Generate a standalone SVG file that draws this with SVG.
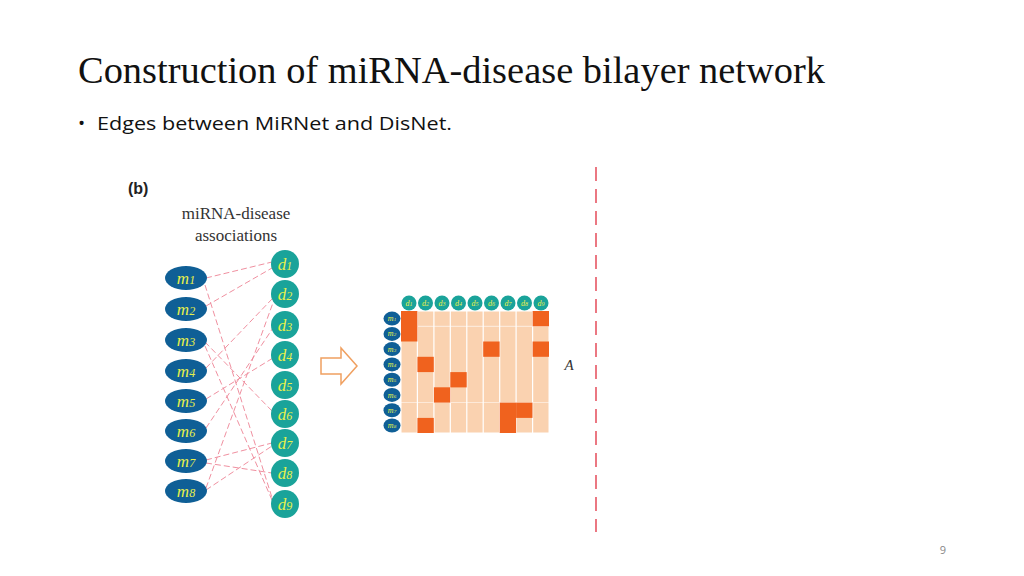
<svg xmlns="http://www.w3.org/2000/svg" width="1024" height="576" viewBox="0 0 1024 576">
<style>
.m{fill:#0f5f96}.d{fill:#1aa39a}.lab{font-family:"Liberation Serif",serif;font-style:italic;fill:#e8f04a}
.e{stroke:#f090a0;stroke-width:1;stroke-dasharray:6,3;fill:none}
.c{fill:#fad2b0;stroke:#fff;stroke-width:1}.f{fill:#f0621e}
</style>
<rect width="1024" height="576" fill="#fff"/>
<text x="78" y="83" font-family="Liberation Serif,serif" font-size="37" fill="#111" textLength="747" lengthAdjust="spacingAndGlyphs">Construction of miRNA-disease bilayer network</text>
<text x="78" y="130" font-family="Open Sans,sans-serif" font-size="19" fill="#111">•</text>
<text x="97" y="130" font-family="Open Sans,sans-serif" font-size="19" fill="#111" textLength="355" lengthAdjust="spacingAndGlyphs">Edges between MiRNet and DisNet.</text>
<text x="128" y="194" font-family="Liberation Sans,sans-serif" font-size="16" font-weight="bold" fill="#222">(b)</text>
<text x="236" y="219" text-anchor="middle" font-family="Liberation Serif,serif" font-size="17" fill="#333">miRNA-disease</text>
<text x="236" y="241" text-anchor="middle" font-family="Liberation Serif,serif" font-size="17" fill="#333">associations</text>
<g id="connectors">
<line class="e" x1="206" y1="278" x2="272" y2="262"/>
<line class="e" x1="205" y1="285" x2="274" y2="504"/>
<line class="e" x1="206" y1="306" x2="272" y2="268"/>
<line class="e" x1="205" y1="342" x2="273" y2="412"/>
<line class="e" x1="205" y1="346" x2="272" y2="500"/>
<line class="e" x1="206" y1="368" x2="273" y2="298"/>
<line class="e" x1="206" y1="399" x2="273" y2="358"/>
<line class="e" x1="206" y1="428" x2="273" y2="328"/>
<line class="e" x1="206" y1="460" x2="272" y2="443"/>
<line class="e" x1="206" y1="463" x2="272" y2="473"/>
<line class="e" x1="206" y1="488" x2="274" y2="300"/>
<line class="e" x1="206" y1="490" x2="272" y2="446"/>
</g>
<g id="mnodes">
<g id="m1"><ellipse class="m" cx="186" cy="278" rx="21" ry="12"/><text class="lab" x="186" y="284" text-anchor="middle" font-size="17">m<tspan font-size="12">1</tspan></text></g>
<g id="m2"><ellipse class="m" cx="186" cy="309" rx="21" ry="12"/><text class="lab" x="186" y="315" text-anchor="middle" font-size="17">m<tspan font-size="12">2</tspan></text></g>
<g id="m3"><ellipse class="m" cx="186" cy="340" rx="21" ry="12"/><text class="lab" x="186" y="346" text-anchor="middle" font-size="17">m<tspan font-size="12">3</tspan></text></g>
<g id="m4"><ellipse class="m" cx="186" cy="371" rx="21" ry="12"/><text class="lab" x="186" y="377" text-anchor="middle" font-size="17">m<tspan font-size="12">4</tspan></text></g>
<g id="m5"><ellipse class="m" cx="186" cy="401" rx="21" ry="12"/><text class="lab" x="186" y="407" text-anchor="middle" font-size="17">m<tspan font-size="12">5</tspan></text></g>
<g id="m6"><ellipse class="m" cx="186" cy="431" rx="21" ry="12"/><text class="lab" x="186" y="437" text-anchor="middle" font-size="17">m<tspan font-size="12">6</tspan></text></g>
<g id="m7"><ellipse class="m" cx="186" cy="461" rx="21" ry="12"/><text class="lab" x="186" y="467" text-anchor="middle" font-size="17">m<tspan font-size="12">7</tspan></text></g>
<g id="m8"><ellipse class="m" cx="186" cy="491" rx="21" ry="12"/><text class="lab" x="186" y="497" text-anchor="middle" font-size="17">m<tspan font-size="12">8</tspan></text></g>
</g>
<g id="dnodes">
<g id="d1"><ellipse class="d" cx="285" cy="264" rx="14" ry="14"/><text class="lab" x="285" y="270" text-anchor="middle" font-size="17">d<tspan font-size="12">1</tspan></text></g>
<g id="d2"><ellipse class="d" cx="285" cy="294" rx="14" ry="14"/><text class="lab" x="285" y="300" text-anchor="middle" font-size="17">d<tspan font-size="12">2</tspan></text></g>
<g id="d3"><ellipse class="d" cx="285" cy="325" rx="14" ry="14"/><text class="lab" x="285" y="331" text-anchor="middle" font-size="17">d<tspan font-size="12">3</tspan></text></g>
<g id="d4"><ellipse class="d" cx="285" cy="355" rx="14" ry="14"/><text class="lab" x="285" y="361" text-anchor="middle" font-size="17">d<tspan font-size="12">4</tspan></text></g>
<g id="d5"><ellipse class="d" cx="285" cy="385" rx="14" ry="14"/><text class="lab" x="285" y="391" text-anchor="middle" font-size="17">d<tspan font-size="12">5</tspan></text></g>
<g id="d6"><ellipse class="d" cx="285" cy="414" rx="14" ry="14"/><text class="lab" x="285" y="420" text-anchor="middle" font-size="17">d<tspan font-size="12">6</tspan></text></g>
<g id="d7"><ellipse class="d" cx="285" cy="443" rx="14" ry="14"/><text class="lab" x="285" y="449" text-anchor="middle" font-size="17">d<tspan font-size="12">7</tspan></text></g>
<g id="d8"><ellipse class="d" cx="285" cy="473" rx="14" ry="14"/><text class="lab" x="285" y="479" text-anchor="middle" font-size="17">d<tspan font-size="12">8</tspan></text></g>
<g id="d9"><ellipse class="d" cx="285" cy="504" rx="14" ry="14"/><text class="lab" x="285" y="510" text-anchor="middle" font-size="17">d<tspan font-size="12">9</tspan></text></g>
</g>
<g id="arrow"><path d="M321,358 H341 V348 L357,366 L341,384 V374 H321 Z" fill="#fff" stroke="#f0a060" stroke-width="1.5"/></g>
<g id="matrix">
<rect class="c" x="401" y="311" width="148" height="122"/>
<g stroke="#fff" stroke-width="1.2">
<line x1="417.4" y1="311" x2="417.4" y2="433"/><line x1="433.9" y1="311" x2="433.9" y2="433"/><line x1="450.3" y1="311" x2="450.3" y2="433"/><line x1="466.8" y1="311" x2="466.8" y2="433"/><line x1="483.2" y1="311" x2="483.2" y2="433"/><line x1="499.7" y1="311" x2="499.7" y2="433"/><line x1="516.1" y1="311" x2="516.1" y2="433"/><line x1="532.6" y1="311" x2="532.6" y2="433"/>
<line x1="401" y1="326.3" x2="549" y2="326.3" stroke-opacity="0.5"/><line x1="401" y1="402.5" x2="549" y2="402.5" stroke-opacity="0.5"/>
</g>
<g class="f">
<rect x="401" y="311" width="16.4" height="30.5"/><rect x="532.6" y="311" width="16.4" height="15.3"/>
<rect x="483.2" y="341.5" width="16.4" height="15.3"/><rect x="532.6" y="341.5" width="16.4" height="15.3"/>
<rect x="417.4" y="356.8" width="16.4" height="15.3"/>
<rect x="450.3" y="372.1" width="16.4" height="15.3"/>
<rect x="433.9" y="387.3" width="16.4" height="15.3"/>
<rect x="499.7" y="402.6" width="16.4" height="30.4"/><rect x="516.1" y="402.6" width="16.4" height="15.3"/>
<rect x="417.4" y="417.9" width="16.4" height="15.1"/>
</g>
<g id="colheads" font-size="8">
<circle class="d" cx="409" cy="303" r="7.5"/><text class="lab" x="409" y="306" text-anchor="middle">d<tspan font-size="6">1</tspan></text>
<circle class="d" cx="425.5" cy="303" r="7.5"/><text class="lab" x="425.5" y="306" text-anchor="middle">d<tspan font-size="6">2</tspan></text>
<circle class="d" cx="442" cy="303" r="7.5"/><text class="lab" x="442" y="306" text-anchor="middle">d<tspan font-size="6">3</tspan></text>
<circle class="d" cx="458.5" cy="303" r="7.5"/><text class="lab" x="458.5" y="306" text-anchor="middle">d<tspan font-size="6">4</tspan></text>
<circle class="d" cx="475" cy="303" r="7.5"/><text class="lab" x="475" y="306" text-anchor="middle">d<tspan font-size="6">5</tspan></text>
<circle class="d" cx="491.5" cy="303" r="7.5"/><text class="lab" x="491.5" y="306" text-anchor="middle">d<tspan font-size="6">6</tspan></text>
<circle class="d" cx="508" cy="303" r="7.5"/><text class="lab" x="508" y="306" text-anchor="middle">d<tspan font-size="6">7</tspan></text>
<circle class="d" cx="524.5" cy="303" r="7.5"/><text class="lab" x="524.5" y="306" text-anchor="middle">d<tspan font-size="6">8</tspan></text>
<circle class="d" cx="541" cy="303" r="7.5"/><text class="lab" x="541" y="306" text-anchor="middle">d<tspan font-size="6">9</tspan></text>
</g>
<g id="rowheads" font-size="8">
<ellipse class="m" cx="392" cy="318.6" rx="8.5" ry="7"/><text class="lab" x="392" y="321" text-anchor="middle">m<tspan font-size="5">1</tspan></text>
<ellipse class="m" cx="392" cy="333.9" rx="8.5" ry="7"/><text class="lab" x="392" y="336" text-anchor="middle">m<tspan font-size="5">2</tspan></text>
<ellipse class="m" cx="392" cy="349.1" rx="8.5" ry="7"/><text class="lab" x="392" y="351.5" text-anchor="middle">m<tspan font-size="5">3</tspan></text>
<ellipse class="m" cx="392" cy="364.4" rx="8.5" ry="7"/><text class="lab" x="392" y="367" text-anchor="middle">m<tspan font-size="5">4</tspan></text>
<ellipse class="m" cx="392" cy="379.7" rx="8.5" ry="7"/><text class="lab" x="392" y="382" text-anchor="middle">m<tspan font-size="5">5</tspan></text>
<ellipse class="m" cx="392" cy="394.9" rx="8.5" ry="7"/><text class="lab" x="392" y="397.5" text-anchor="middle">m<tspan font-size="5">6</tspan></text>
<ellipse class="m" cx="392" cy="410.2" rx="8.5" ry="7"/><text class="lab" x="392" y="412.5" text-anchor="middle">m<tspan font-size="5">7</tspan></text>
<ellipse class="m" cx="392" cy="425.5" rx="8.5" ry="7"/><text class="lab" x="392" y="428" text-anchor="middle">m<tspan font-size="5">8</tspan></text>
</g>
</g>
<text x="569" y="370" text-anchor="middle" font-family="Liberation Serif,serif" font-style="italic" font-size="15" fill="#333">A</text>
<line x1="596" y1="167" x2="596" y2="532" stroke="#e03040" stroke-width="1.3" stroke-dasharray="14,8"/>
<text x="943" y="554" text-anchor="middle" font-family="Open Sans,sans-serif" font-size="11" fill="#888">9</text>
</svg>
